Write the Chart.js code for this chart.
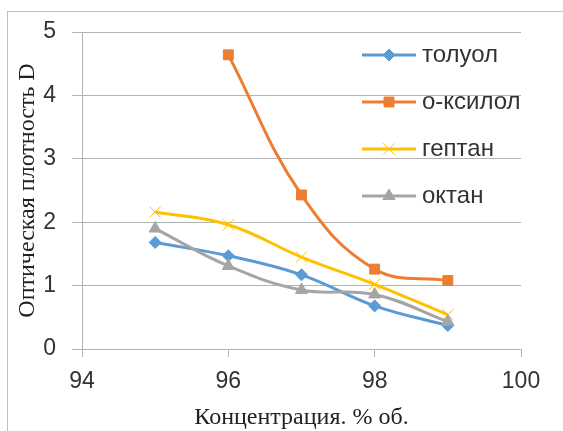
<!DOCTYPE html>
<html>
<head>
<meta charset="utf-8">
<script src="https://cdn.jsdelivr.net/npm/chart.js@4.4.1/dist/chart.umd.min.js"></script>
<style>
    html, body { margin: 0; padding: 0; background: #fff; overflow: hidden; }
    #wrap { position: relative; width: 563px; height: 431px; }
    #frame { position: absolute; left: 7px; top: 11px; width: 600px; height: 500px; border: 1px solid #bfbfbf; }
    #chart { position: absolute; left: 0; top: 0; }
</style>
</head>
<body>
<div id="wrap">
    <div id="frame"></div>
    <canvas id="chart" width="563" height="431"></canvas>
</div>
<script>
// Данные графика
const concentration = [95, 96, 97, 98, 99];
const seriesNames = ["толуол", "о-ксилол", "гептан", "октан"];
const toluene = [1.68, 1.47, 1.17, 0.68, 0.37];
const oXylene = [null, 4.64, 2.43, 1.26, 1.08];
const heptane = [2.16, 1.96, 1.45, 1.02, 0.54];
const octane = [1.90, 1.31, 0.93, 0.86, 0.43];
const xTicks = [94, 96, 98, 100];
const yTicks = [0, 1, 2, 3, 4, 5];

const gridColor = "#b3b3b3";
const textColor = "#333333";
const sansFont = "'Liberation Sans', Arial, sans-serif";
const serifFont = "'Liberation Serif', 'Times New Roman', serif";

function toPoints(values) {
    const points = [];
    values.forEach((v, i) => {
        if (v !== null) points.push({ x: concentration[i], y: v });
    });
    return points;
}

function makeDataset(label, values, color, style, radius, order) {
    return {
        label: label,
        data: toPoints(values),
        borderColor: color,
        backgroundColor: color,
        borderWidth: 3,
        tension: 0.4,
        pointStyle: style,
        pointRadius: radius,
        pointBorderWidth: 1,
        pointBackgroundColor: color,
        pointBorderColor: color,
        order: order
    };
}

// Легенда внутри области графика
const insideLegend = {
    id: "insideLegend",
    afterDatasetsDraw(chart) {
        const ctx = chart.ctx;
        const rows = [55, 102, 149, 196];
        ctx.save();
        chart.data.datasets.forEach((ds, i) => {
            const y = rows[i];
            ctx.strokeStyle = ds.borderColor;
            ctx.lineWidth = 3;
            ctx.beginPath();
            ctx.moveTo(362, y);
            ctx.lineTo(416, y);
            ctx.stroke();
            ctx.fillStyle = ds.pointBackgroundColor;
            ctx.strokeStyle = ds.pointBorderColor;
            ctx.lineWidth = ds.pointBorderWidth;
            Chart.helpers.drawPoint(ctx, {
                pointStyle: ds.pointStyle,
                radius: ds.pointRadius,
                borderWidth: ds.pointBorderWidth,
                rotation: 0
            }, 389, y);
            ctx.fillStyle = textColor;
            ctx.font = "24px " + sansFont;
            ctx.textBaseline = "middle";
            ctx.textAlign = "left";
            ctx.fillText(ds.label, 422, y);
        });
        ctx.restore();
    }
};

const ctx = document.getElementById("chart").getContext("2d");
new Chart(ctx, {
    type: "line",
    data: {
        datasets: [
            makeDataset(seriesNames[0], toluene, "#5B9BD5", "rectRot", 6, 3),
            makeDataset(seriesNames[1], oXylene, "#ED7D31", "rect", 7, 2),
            makeDataset(seriesNames[2], heptane, "#FFC000", "crossRot", 8, 1),
            makeDataset(seriesNames[3], octane, "#A5A5A5", "triangle", 7, 0)
        ]
    },
    options: {
        responsive: false,
        animation: false,
        layout: { padding: { top: 32, right: 42, left: 0, bottom: 0 } },
        plugins: {
            legend: { display: false },
            tooltip: { enabled: false }
        },
        scales: {
            x: {
                type: "linear",
                min: xTicks[0],
                max: xTicks[xTicks.length - 1],
                afterBuildTicks: (scale) => { scale.ticks = xTicks.map(v => ({ value: v })); },
                afterFit: (scale) => { scale.height = 82; },
                grid: { drawOnChartArea: false, drawTicks: true, tickLength: 8, color: gridColor },
                border: { color: gridColor },
                ticks: { padding: 11, color: textColor, font: { family: sansFont, size: 23 } },
                title: {
                    display: true,
                    text: "Концентрация. % об.",
                    color: "#222",
                    padding: { top: 0, bottom: -1 },
                    font: { family: serifFont, size: 24 }
                }
            },
            y: {
                min: yTicks[0],
                max: yTicks[yTicks.length - 1],
                afterBuildTicks: (scale) => { scale.ticks = yTicks.map(v => ({ value: v })); },
                afterFit: (scale) => { scale.width = 82; },
                grid: { tickLength: 10, color: gridColor },
                border: { color: gridColor },
                ticks: { padding: 16, color: textColor, font: { family: sansFont, size: 23 } },
                title: {
                    display: true,
                    text: "Оптическая плотность D",
                    color: "#222",
                    padding: { top: 13, bottom: 0 },
                    font: { family: serifFont, size: 24 }
                }
            }
        }
    },
    plugins: [insideLegend]
});
</script>
</body>
</html>
